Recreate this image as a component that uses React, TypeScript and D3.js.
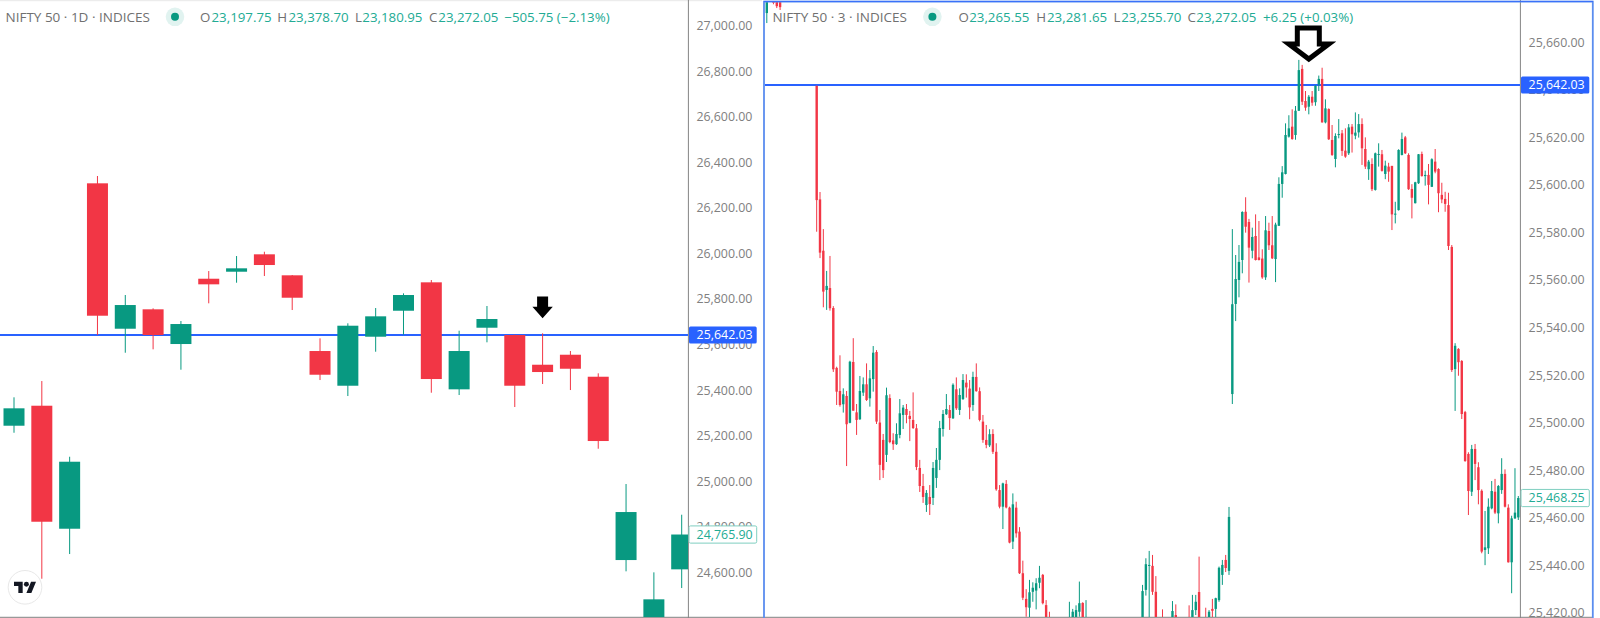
import { useEffect, useRef } from "react";
import * as d3 from "d3";

// ---- left pane: NIFTY 50, daily ----
const leftOpen = [25243.6, 25331.4, 24791.3, 26307.9, 25669.5, 25754.7, 25602.3, 25889.0, 25919.8, 25996.2, 25904.0, 25571.6, 25419.2, 25634.4, 25748.5, 25873.2, 25403.4, 25673.9, 25641.8, 25511.4, 25555.3, 25458.7, 24653.8, 24302.6, 24613.0];
const leftHigh = [25368.3, 25439.8, 25107.4, 26340.0, 25817.5, 25759.1, 25703.3, 25922.8, 25988.7, 26007.6, 25905.3, 25627.3, 25693.2, 25760.4, 25824.9, 25883.3, 25660.7, 25769.2, 25643.1, 25649.3, 25571.6, 25473.6, 24987.6, 24599.8, 24852.8];
const leftLow = [25212.8, 24571.8, 24680.2, 25641.8, 25564.1, 25579.0, 25489.5, 25781.0, 25871.5, 25900.9, 25751.6, 25444.2, 25374.0, 25568.5, 25643.1, 25388.5, 25378.4, 25609.8, 25325.7, 25426.7, 25400.3, 25142.6, 24604.2, 24258.7, 24530.9];
const leftClose = [25320.0, 24822.0, 25085.5, 25726.6, 25773.5, 25641.8, 25690.1, 25864.4, 25934.7, 25949.2, 25805.6, 25467.5, 25682.7, 25723.9, 25817.5, 25448.6, 25571.6, 25712.1, 25419.2, 25479.3, 25493.8, 25176.4, 24864.6, 24481.3, 24765.9];
const leftTicks = [27000, 26800, 26600, 26400, 26200, 26000, 25800, 25600, 25400, 25200, 25000, 24800, 24600];
const leftLegend = ["23,197.75", "23,378.70", "23,180.95", "23,272.05", "\u2212505.75 (\u22122.13%)"];
const leftLast = 24765.9;

// ---- right pane: NIFTY 50, 3 minute. null = bar sits fully off the visible range ----
const _ = null;
const rightOpen = [
  25672.3, _, 25680, 25680, 25679, _, _, _, _, _, _, _, _, _, _,
  25641.7, 25593.9, 25572.3, 25555.8, 25556.6, 25548.2, 25523.0, 25513.3, 25507.7, 25511.2,
  25499.9, 25525.5, 25504.3, 25501.4, 25512.6, 25516.1, 25510.2, 25518.3, 25529.7, 25500.0,
  25492.7, 25486.4, 25510.3, 25492.5, 25490.9, 25494.8, 25503.2, 25505.7, 25502.8, 25501.1,
  25497.6, 25480.9, 25473.3, 25465.3, 25468.7, 25468.3, 25476.7, 25484.3, 25497.3, 25503.5,
  25505.3, 25501.8, 25514.0, 25505.3, 25509.9, 25516.8, 25514.3, 25507.4, 25519.2, 25513.2,
  25500.4, 25492.7, 25490.4, 25495.2, 25487.7, 25471.6, 25464.6, 25474.2, 25464.2, 25449.9,
  25464.2, 25454.1, 25436.6, 25425.8, 25422.1, 25428.8, 25429.3, 25432.6, 25435.9, 25423.2,
  25414.8, _, _, _, _, _, 25410.6, 25412.7, 25414.8, 25420.4,
  25424.1, 25410.6, _, _, _, _, _, _, _, _,
  _, _, _, _, _, _, _, _, 25412.7, 25429.6,
  25439.7, 25439.7, 25428.8, _, 25414.8, _, _, 25412.7, 25419.0, _,
  _, _, 25414.8, 25412.7, 25421.1, 25428.7, _, 25414.8, 25412.7, 25421.6,
  25421.6, 25425.3, 25435.9, 25442.2, 25437.6, 25512.0, 25549.9, 25560.0, 25568.4, 25588.7,
  25584.4, 25572.3, 25578.5, 25569.5, 25569.0, 25561.1, 25580.6, 25574.6, 25568.8, 25582.8,
  25600.4, 25604.6, 25620.3, 25624.5, 25621.0, 25631.2, 25648.8, 25635.3, 25632.9, 25637.1,
  25634.8, 25642.3, 25644.6, 25626.3, 25631.9, 25618.9, 25610.9, 25621.0, 25621.7, 25614.4,
  25613.3, 25624.5, 25620.7, 25622.1, 25625.6, 25615.1, 25606.6, 25608.8, 25597.9, 25612.6,
  25612.9, 25604.6, 25607.7, 25608.0, 25587.5, 25589.4, 25612.6, 25620.0, 25612.6, 25598.3,
  25592.3, 25600.7, 25613.0, 25603.7, 25604.2, 25599.2, 25609.8, 25606.7, 25595.8, 25594.1,
  25591.5, 25573.9, 25522.5, 25531.0, 25525.9, 25504.4, 25486.8, 25470.9, 25488.9, 25481.2,
  25471.3, 25446.4, 25447.1, 25463.9, 25470.9, 25461.8, 25471.6, 25478.4, 25464.2, 25441.2,
  25459.7, 25460.1,
];
const rightHigh = [
  25682, _, 25681, 25681, 25680, _, _, _, _, _, _, _, _, _, _,
  25641.7, 25597.0, 25581.4, 25563.8, 25570.1, 25549.0, 25523.5, 25528.3, 25514.4, 25513.3,
  25526.0, 25535.5, 25507.8, 25519.6, 25519.0, 25524.9, 25522.1, 25532.2, 25530.5, 25505.3,
  25495.2, 25514.7, 25511.9, 25495.5, 25499.7, 25509.9, 25507.4, 25507.8, 25504.9, 25512.7,
  25499.4, 25484.3, 25478.4, 25471.6, 25473.7, 25483.4, 25489.3, 25500.7, 25505.3, 25512.0,
  25507.4, 25516.5, 25519.0, 25514.4, 25520.4, 25520.3, 25517.9, 25521.4, 25524.9, 25514.8,
  25503.2, 25499.0, 25497.2, 25497.2, 25491.3, 25473.7, 25474.7, 25475.8, 25464.6, 25470.2,
  25466.7, 25456.0, 25441.9, 25429.9, 25433.8, 25432.8, 25434.5, 25439.7, 25436.3, 25425.3,
  25420.4, _, _, _, _, _, 25424.6, 25421.6, 25423.1, 25433.1,
  25424.4, 25425.3, _, _, _, _, _, _, _, _,
  _, _, _, _, _, _, _, _, 25431.7, 25442.9,
  25446.0, 25444.3, 25435.4, _, 25421.4, _, _, 25424.9, 25423.5, _,
  _, _, 25423.1, 25427.5, 25427.5, 25443.6, _, 25422.1, 25421.1, 25425.8,
  25426.3, 25439.4, 25442.2, 25444.3, 25464.5, 25581.4, 25570.5, 25574.7, 25588.9, 25594.8,
  25585.7, 25582.0, 25587.6, 25584.8, 25572.9, 25586.9, 25584.1, 25586.9, 25584.1, 25603.2,
  25607.9, 25625.9, 25629.3, 25631.8, 25633.2, 25652.6, 25650.5, 25639.5, 25637.8, 25639.5,
  25642.0, 25646.0, 25649.3, 25636.0, 25632.2, 25625.2, 25621.7, 25627.7, 25623.1, 25623.8,
  25625.6, 25625.6, 25630.5, 25629.8, 25628.0, 25620.0, 25610.5, 25611.2, 25613.6, 25617.5,
  25614.7, 25610.2, 25609.3, 25608.0, 25592.9, 25615.0, 25622.0, 25620.6, 25613.3, 25600.3,
  25601.3, 25613.0, 25614.0, 25606.0, 25608.8, 25611.2, 25615.1, 25607.0, 25600.9, 25597.1,
  25596.7, 25574.7, 25533.4, 25531.3, 25526.3, 25504.9, 25487.5, 25490.6, 25491.0, 25483.3,
  25471.9, 25462.8, 25468.1, 25475.4, 25476.3, 25473.7, 25485.0, 25480.3, 25465.6, 25460.8,
  25480.8, 25469.1,
];
const rightLow = [
  25668.1, _, 25676, 25674.4, 25673.6, _, _, _, _, _, _, _, _, _, _,
  25580.3, 25569.2, 25548.5, 25547.4, 25547.1, 25521.3, 25507.4, 25506.7, 25504.2, 25481.7,
  25499.7, 25505.0, 25494.8, 25501.1, 25511.2, 25509.1, 25506.7, 25513.0, 25499.4, 25475.8,
  25476.7, 25483.4, 25491.3, 25488.5, 25490.6, 25493.4, 25497.3, 25499.7, 25492.2, 25497.3,
  25480.0, 25470.8, 25466.2, 25462.4, 25461.1, 25465.3, 25472.5, 25480.0, 25494.1, 25503.2,
  25496.9, 25501.5, 25505.3, 25503.2, 25509.5, 25510.5, 25501.4, 25504.9, 25513.0, 25500.5,
  25491.5, 25489.2, 25489.7, 25486.8, 25471.3, 25463.9, 25455.2, 25463.9, 25449.2, 25446.8,
  25451.6, 25436.3, 25425.3, 25418.3, 25414.8, 25424.6, 25421.4, 25430.3, 25423.5, 25408.5,
  25406.4, _, _, _, _, _, 25408.5, 25408.5, 25410.6, 25418.3,
  25410.6, 25408.5, _, _, _, _, _, _, _, _,
  _, _, _, _, _, _, _, _, 25410.6, 25427.2,
  25414.8, 25427.5, 25408.5, _, 25410.6, _, _, 25410.6, 25410.6, _,
  _, _, 25410.6, 25410.6, 25419.0, 25408.5, _, 25410.6, 25410.6, 25414.8,
  25414.8, 25424.6, 25431.7, 25437.1, 25435.9, 25507.8, 25542.7, 25552.7, 25562.8, 25579.9,
  25558.9, 25569.1, 25568.2, 25568.2, 25560.5, 25560.0, 25572.6, 25568.8, 25559.1, 25582.7,
  25594.6, 25604.4, 25619.9, 25619.0, 25619.0, 25631.1, 25633.6, 25631.2, 25629.7, 25633.3,
  25633.3, 25639.5, 25626.2, 25625.9, 25618.9, 25612.2, 25607.4, 25619.6, 25612.2, 25611.4,
  25612.6, 25613.6, 25619.2, 25619.9, 25608.4, 25606.7, 25602.1, 25597.4, 25597.6, 25607.7,
  25605.6, 25602.4, 25601.3, 25581.0, 25583.8, 25589.2, 25612.4, 25613.0, 25597.9, 25585.9,
  25592.2, 25600.4, 25603.5, 25599.7, 25591.8, 25599.1, 25604.9, 25588.5, 25592.3, 25588.7,
  25572.6, 25521.3, 25504.9, 25519.7, 25501.5, 25483.5, 25461.1, 25469.1, 25475.8, 25465.6,
  25445.0, 25440.0, 25444.7, 25463.5, 25461.5, 25457.6, 25470.0, 25464.3, 25441.1, 25428.2,
  25459.4, 25459.0,
];
const rightClose = [
  25680, _, 25676.6, 25675.2, 25674.8, _, _, _, _, _, _, _, _, _, _,
  25593.6, 25571.5, 25555.1, 25557.5, 25548.1, 25522.4, 25513.0, 25507.4, 25511.9, 25499.3,
  25525.6, 25505.0, 25501.1, 25513.3, 25516.1, 25509.5, 25518.6, 25529.4, 25500.4, 25482.2,
  25480.0, 25511.5, 25491.8, 25490.9, 25495.2, 25503.9, 25506.3, 25503.2, 25501.5, 25497.7,
  25481.3, 25473.3, 25468.7, 25470.4, 25465.7, 25480.9, 25484.3, 25497.7, 25503.6, 25505.7,
  25501.9, 25515.9, 25506.0, 25511.6, 25517.9, 25514.8, 25506.4, 25519.2, 25513.2, 25501.1,
  25492.7, 25490.6, 25495.1, 25487.7, 25471.9, 25464.6, 25474.4, 25464.3, 25449.5, 25465.6,
  25453.4, 25436.6, 25426.3, 25422.3, 25428.6, 25430.5, 25432.4, 25434.7, 25424.0, 25412.7,
  25410.6, _, _, _, _, _, 25414.8, 25420.4, 25421.1, 25424.0,
  25412.7, 25414.8, _, _, _, _, _, _, _, _,
  _, _, _, _, _, _, _, _, 25429.1, 25440.4,
  25440.1, 25428.8, 25412.7, _, 25412.7, _, _, 25420.7, 25412.7, _,
  _, _, 25412.7, 25421.1, 25424.6, 25412.7, _, 25412.7, 25420.4, 25420.8,
  25426.1, 25438.9, 25440.1, 25438.8, 25460.3, 25549.8, 25560.4, 25567.6, 25588.6, 25582.4,
  25573.6, 25578.1, 25568.4, 25568.4, 25561.1, 25580.9, 25574.6, 25569.1, 25583.3, 25600.4,
  25605.3, 25621.0, 25623.8, 25619.3, 25631.2, 25648.3, 25635.0, 25632.5, 25637.1, 25634.6,
  25641.7, 25644.6, 25626.3, 25632.2, 25619.2, 25612.6, 25620.6, 25621.4, 25614.3, 25611.9,
  25624.2, 25621.3, 25622.0, 25625.6, 25615.4, 25607.7, 25609.8, 25598.2, 25613.3, 25613.0,
  25605.9, 25608.1, 25605.6, 25587.6, 25587.9, 25614.7, 25619.3, 25613.3, 25598.2, 25594.6,
  25601.1, 25612.9, 25603.7, 25604.2, 25600.0, 25610.8, 25605.6, 25596.5, 25593.9, 25592.0,
  25574.3, 25522.1, 25532.3, 25525.4, 25503.6, 25483.8, 25471.2, 25488.9, 25482.6, 25471.6,
  25445.7, 25447.5, 25464.6, 25471.2, 25462.1, 25473.3, 25478.4, 25464.6, 25441.2, 25459.7,
  25462.1, 25468.25,
];
const rightTicks = [25660, 25640, 25620, 25600, 25580, 25560, 25540, 25520, 25500, 25480, 25460, 25440, 25420];
const rightLegend = ["23,265.55", "23,281.65", "23,255.70", "23,272.05", "+6.25 (+0.03%)"];
const rightLast = 25468.25;

const level = 25642.03; // the horizontal line drawn on both panes
const legendKeys = ["O", "H", "L", "C"];

const UP = "#089981";
const DOWN = "#F23645";
const BLUE = "#2962FF";
const AXIS_TEXT = "#808080";
const LEGEND_TEXT = "#707070";
const LEGEND_VALUE = "#22AB94";
const FONT = "'Open Sans', sans-serif";

type Bar = { i: number; o: number; h: number; l: number; c: number };

function toBars(open: (number | null)[], high: (number | null)[], low: (number | null)[], close: (number | null)[]) {
    const bars: Bar[] = [];
    open.forEach((o, i) => {
        if (o === null) return;
        bars.push({ i, o, h: high[i] as number, l: low[i] as number, c: close[i] as number });
    });
    return bars;
}

export default function App() {
    const svgRef = useRef<SVGSVGElement | null>(null);

    useEffect(() => {
        if (!svgRef.current) return;
        const svg = d3.select(svgRef.current);
        svg.selectAll("*").remove();

        // scales
        const leftX = d3.scaleLinear().domain([0, leftOpen.length - 1]).range([14, 681.7]);
        const leftY = d3.scaleLinear().domain([27000, 24600]).range([25.7, 572.3]);
        const rightX = d3.scaleLinear().domain([0, rightOpen.length - 1]).range([766.8, 1518.3]);
        const rightY = d3.scaleLinear().domain([25660, 25420]).range([42.3, 612.7]);

        const defs = svg.append("defs");
        defs.append("clipPath").attr("id", "clip-left").append("rect")
            .attr("x", 0).attr("y", 1).attr("width", 688).attr("height", 616);
        defs.append("clipPath").attr("id", "clip-right").append("rect")
            .attr("x", 765).attr("y", 2).attr("width", 755).attr("height", 615);

        // pane frame
        svg.append("rect").attr("width", 762).attr("height", 1.2).attr("fill", "#ececec");
        svg.append("line").attr("x1", 0).attr("x2", 1593).attr("y1", 617.4).attr("y2", 617.4)
            .attr("stroke", "#999").attr("stroke-width", 1.2);
        [688.4, 1520.4].forEach((x) => {
            svg.append("line").attr("x1", x).attr("x2", x).attr("y1", 0).attr("y2", 618)
                .attr("stroke", "#848484").attr("stroke-width", 1);
        });

        // horizontal level
        svg.append("line").attr("x1", 0).attr("x2", 688)
            .attr("y1", leftY(level)).attr("y2", leftY(level))
            .attr("stroke", BLUE).attr("stroke-width", 2);
        svg.append("line").attr("x1", 765).attr("x2", 1520)
            .attr("y1", rightY(level)).attr("y2", rightY(level))
            .attr("stroke", BLUE).attr("stroke-width", 2);

        const drawCandles = (
            id: string,
            bars: Bar[],
            x: d3.ScaleLinear<number, number>,
            y: d3.ScaleLinear<number, number>,
            bodyWidth: number,
        ) => {
            const g = svg.append("g").attr("clip-path", `url(#${id})`);
            const color = (d: Bar) => (d.c >= d.o ? UP : DOWN);
            g.selectAll("line").data(bars).join("line")
                .attr("x1", (d) => x(d.i)).attr("x2", (d) => x(d.i))
                .attr("y1", (d) => y(d.h)).attr("y2", (d) => y(d.l))
                .attr("stroke", color).attr("stroke-width", 1);
            g.selectAll("rect").data(bars).join("rect")
                .attr("x", (d) => x(d.i) - bodyWidth / 2)
                .attr("width", bodyWidth)
                .attr("y", (d) => y(Math.max(d.o, d.c)))
                .attr("height", (d) => Math.max(1, Math.abs(y(d.o) - y(d.c))))
                .attr("fill", color);
        };

        drawCandles("clip-left", toBars(leftOpen, leftHigh, leftLow, leftClose), leftX, leftY, 21);
        drawCandles("clip-right", toBars(rightOpen, rightHigh, rightLow, rightClose), rightX, rightY, 2.4);

        // price axes
        const fmt = d3.format(",.2f");
        const drawAxis = (scale: d3.ScaleLinear<number, number>, ticks: number[], left: number) => {
            svg.append("g")
                .attr("transform", `translate(${left},0)`)
                .call(d3.axisRight(scale).tickValues(ticks).tickSize(0).tickPadding(0).tickFormat((d) => fmt(d as number)))
                .call((g) => g.select(".domain").remove())
                .call((g) => g.selectAll(".tick text")
                    .attr("fill", AXIS_TEXT)
                    .style("font-family", FONT)
                    .style("font-size", "12.4px"));
        };
        drawAxis(leftY, leftTicks, 696.4);
        drawAxis(rightY, rightTicks, 1528.6);

        // price tags on the axes
        const priceTag = (left: number, py: number, value: number, filled: boolean, width: number) => {
            svg.append("rect")
                .attr("x", left).attr("y", py - 8.6)
                .attr("width", width).attr("height", 17.2).attr("rx", 1.5)
                .attr("fill", filled ? BLUE : "#fff")
                .attr("stroke", filled ? "none" : "#7fcfc0").attr("stroke-width", 1);
            svg.append("text")
                .attr("x", left + 7.6).attr("y", py + 4.4)
                .attr("fill", filled ? "#fff" : LEGEND_VALUE)
                .style("font-family", FONT).style("font-size", "12.4px")
                .text(fmt(value));
        };
        priceTag(689, leftY(level), level, true, 67.7);
        priceTag(689, leftY(leftLast), leftLast, false, 67.7);
        priceTag(1521, rightY(level), level, true, 68.3);
        priceTag(1521, rightY(rightLast), rightLast, false, 68.3);

        // legend rows
        const drawLegend = (
            title: string,
            left: number,
            dotX: number,
            values: string[],
            keyX: number[],
            valueX: number[],
        ) => {
            const row = svg.append("g")
                .style("font-family", FONT).style("font-size", "13.3px");
            row.append("text").attr("x", left).attr("y", 21.5).attr("fill", LEGEND_TEXT)
                .style("font-size", "13.5px").text(title);
            row.append("circle").attr("cx", dotX).attr("cy", 16.8).attr("r", 9.3).attr("fill", UP).attr("opacity", 0.12);
            row.append("circle").attr("cx", dotX).attr("cy", 16.8).attr("r", 4).attr("fill", UP);
            legendKeys.forEach((k, i) => {
                row.append("text").attr("x", keyX[i]).attr("y", 21.5).attr("fill", LEGEND_TEXT).text(k);
                row.append("text").attr("x", valueX[i]).attr("y", 21.5).attr("fill", LEGEND_VALUE).text(values[i]);
            });
            row.append("text").attr("x", valueX[4]).attr("y", 21.5).attr("fill", LEGEND_VALUE).text(values[4]);
        };
        drawLegend("NIFTY 50 \u00b7 1D \u00b7 INDICES", 5.5, 175, leftLegend,
            [200, 277.3, 355, 429], [211.5, 288.5, 362.3, 438.3, 504.3]);
        drawLegend("NIFTY 50 \u00b7 3 \u00b7 INDICES", 772.4, 932.4, rightLegend,
            [958.4, 1036.2, 1113.6, 1187.5], [969.2, 1047, 1121.2, 1196.3, 1263]);

        // arrow annotations, anchored to the bars they point at
        const arrow = d3.line();
        const leftTipX = leftX(19);
        const leftTipY = leftY(level) - 16.8;
        svg.append("path")
            .attr("d", arrow([
                [leftTipX - 5.5, leftTipY - 21.6], [leftTipX + 5.5, leftTipY - 21.6],
                [leftTipX + 5.5, leftTipY - 11.4], [leftTipX + 10.2, leftTipY - 11.4],
                [leftTipX, leftTipY], [leftTipX - 10.2, leftTipY - 11.4],
                [leftTipX - 5.5, leftTipY - 11.4],
            ]) + "Z")
            .attr("fill", "#000");

        const rightTipX = rightX(15 + 148);
        const rightTipY = rightY(level) - 26;
        svg.append("path")
            .attr("d", arrow([
                [rightTipX - 11.5, rightTipY - 31], [rightTipX + 10.5, rightTipY - 31],
                [rightTipX + 10.5, rightTipY - 15], [rightTipX + 20, rightTipY - 15],
                [rightTipX, rightTipY], [rightTipX - 20, rightTipY - 15],
                [rightTipX - 11.5, rightTipY - 15],
            ]) + "Z")
            .attr("fill", "#fff").attr("stroke", "#000").attr("stroke-width", 5)
            .attr("stroke-linejoin", "miter");

        // blue selection frame of the right pane (sits above the candles and axis line)
        svg.append("rect").attr("x", 764).attr("y", 1.6).attr("width", 828.8).attr("height", 630)
            .attr("fill", "none").attr("stroke", "#5B8DEF").attr("stroke-width", 1.8);
        svg.append("line").attr("x1", 764).attr("x2", 1593).attr("y1", 1.4).attr("y2", 1.4)
            .attr("stroke", BLUE).attr("stroke-width", 1).attr("opacity", 0.7);

        // TradingView badge
        const badge = svg.append("g").attr("transform", "translate(25,587.3)");
        badge.append("circle").attr("r", 16.8).attr("fill", "#fff").attr("stroke", "#e8e8e8").attr("stroke-width", 1);
        const logo = badge.append("g").attr("transform", "translate(-11,-8) scale(0.62)").attr("fill", "#131722");
        logo.append("path").attr("d", "M14 22H7V11H0V4h14v18zM28 22h-8l7.5-18h8L28 22z");
        logo.append("circle").attr("cx", 20).attr("cy", 8).attr("r", 4);
    }, []);

    return (
        <svg
            ref={svgRef}
            width={1600}
            height={618}
            style={{ position: "absolute", left: 0, top: 0, background: "#fff", display: "block" }}
        ></svg>
    );
}
